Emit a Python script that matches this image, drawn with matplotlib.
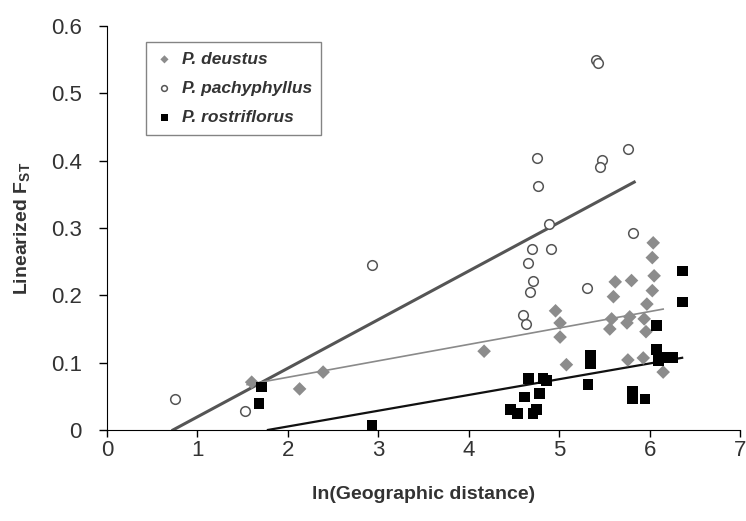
import matplotlib.pyplot as plt

plt.rcParams['font.family'] = ['Liberation Sans', 'DejaVu Sans']
plt.rcParams['mathtext.default'] = 'regular'

# P. deustus (grey diamonds)
deu_x = [1.60, 2.13, 2.39, 4.17, 4.96, 5.01, 5.01, 5.08, 5.62, 5.80, 5.60, 6.04, 6.03, 6.05, 6.03,
         5.97, 5.58, 5.56, 5.78, 5.75, 5.94, 5.96, 5.76, 5.93, 6.15]
deu_y = [0.071, 0.061, 0.086, 0.117, 0.177, 0.159, 0.138, 0.097, 0.220, 0.222, 0.198, 0.278, 0.256, 0.229, 0.207,
         0.187, 0.165, 0.150, 0.168, 0.159, 0.165, 0.146, 0.104, 0.107, 0.086]

# P. pachyphyllus (open circles)
pac_x = [0.75, 1.53, 2.93, 4.60, 4.63, 4.68, 4.71, 4.66, 4.70, 4.75, 4.77, 4.89, 4.91, 5.31,
         5.41, 5.43, 5.47, 5.45, 5.76, 5.82]
pac_y = [0.046, 0.028, 0.245, 0.171, 0.157, 0.205, 0.222, 0.248, 0.269, 0.404, 0.363, 0.306, 0.269, 0.211,
         0.549, 0.545, 0.401, 0.391, 0.417, 0.293]

# P. rostriflorus (black squares)
ros_x = [1.71, 1.68, 2.93, 4.66, 4.82, 4.86, 4.62, 4.78, 4.46, 4.54, 4.71, 4.75, 5.35, 5.35, 5.32,
         5.81, 5.81, 5.95, 6.08, 6.08, 6.10, 6.20, 6.26, 6.36, 6.36]
ros_y = [0.064, 0.039, 0.007, 0.077, 0.077, 0.074, 0.049, 0.054, 0.030, 0.025, 0.024, 0.030, 0.111, 0.099, 0.067,
         0.057, 0.046, 0.046, 0.155, 0.119, 0.103, 0.108, 0.108, 0.236, 0.190]

# regression lines: x range, slope, intercept
deu_fit = ([1.55, 6.15], 0.0244, 0.0295)
pac_fit = ([0.73, 5.83], 0.0722, -0.0527)
ros_fit = ([1.78, 6.36], 0.0234, -0.0416)

fig = plt.figure(figsize=(7.46, 5.21), dpi=100)
ax = fig.add_axes([0.1434, 0.1747, 0.8486, 0.7753])

def line(fit):
    xs, m, b = fit
    return xs, [m * v + b for v in xs]

ax.plot(*line(pac_fit), color='#555555', lw=2.2, zorder=2)
ax.plot(*line(deu_fit), color='#8a8a8a', lw=1.2, zorder=2)
ax.plot(*line(ros_fit), color='#111111', lw=1.6, zorder=2)

ax.scatter(deu_x, deu_y, marker='D', s=48, color='#8c8c8c', edgecolors='none', label='P. deustus', zorder=3)
ax.scatter(pac_x, pac_y, marker='o', s=48, facecolors='white', edgecolors='#555555', linewidths=1.1,
           label='P. pachyphyllus', zorder=3)
ax.scatter(ros_x, ros_y, marker='s', s=60, color='black', edgecolors='none', label='P. rostriflorus', zorder=4)

ax.set_xlim(0, 7)
ax.set_ylim(0, 0.6)
ax.set_xticks(range(0, 8))
ax.set_yticks([0, 0.1, 0.2, 0.3, 0.4, 0.5, 0.6])
ax.set_yticklabels(['0', '0.1', '0.2', '0.3', '0.4', '0.5', '0.6'])
ax.spines['top'].set_visible(False)
ax.spines['right'].set_visible(False)
ax.tick_params(axis='both', labelsize=16, labelcolor='#333333', direction='out', length=5, width=1)
ax.tick_params(axis='x', pad=2)
ax.tick_params(axis='y', direction='out', length=6, pad=12)

ax.set_xlabel('ln(Geographic distance)', fontsize=14, fontweight='bold', color='#333333', labelpad=18)
ax.set_ylabel('Linearized F$_{ST}$', fontsize=14, fontweight='bold', color='#333333', labelpad=14)

leg = ax.legend(loc='upper left', bbox_to_anchor=(0.062, 0.960), borderaxespad=0, fancybox=False,
                edgecolor='#666666', prop={'size': 12.5, 'weight': 'bold', 'style': 'italic'},
                handletextpad=0.5, labelspacing=0.8, borderpad=0.55, handlelength=1.0, markerscale=0.6)
leg.get_frame().set_linewidth(1.0)
for t in leg.get_texts():
    t.set_color('#333333')

fig.savefig('out.png', dpi=100)
